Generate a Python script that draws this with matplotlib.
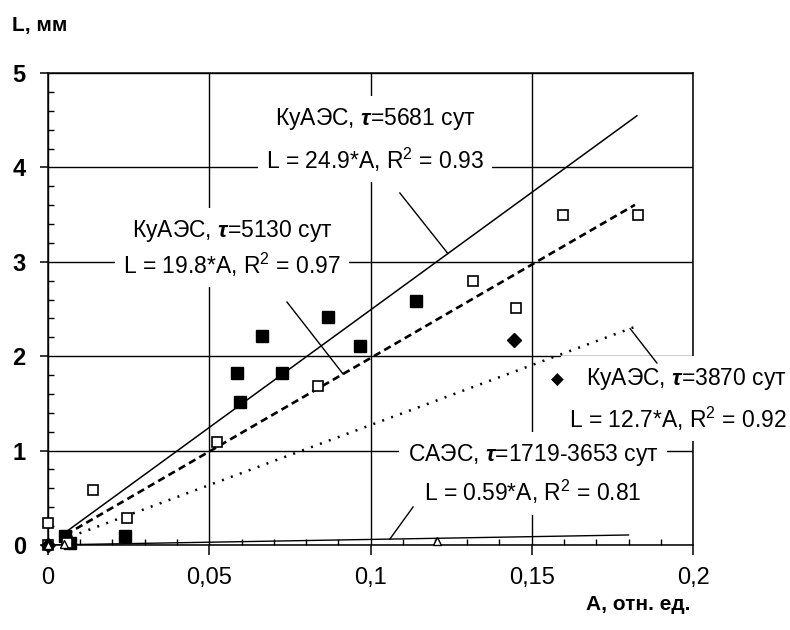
import matplotlib
matplotlib.use('Agg')
import matplotlib.pyplot as plt
from matplotlib.ticker import MultipleLocator

plt.rcParams['font.family'] = ['Liberation Sans', 'DejaVu Sans']
plt.rcParams['mathtext.fontset'] = 'custom'
plt.rcParams['mathtext.rm'] = 'Liberation Sans'
plt.rcParams['mathtext.it'] = 'Liberation Sans:italic:bold'

# --- данные ---
# КуАЭС, tau=5681 сут (закрашенные квадраты), L = 24.9*A
a_5681 = [0.0053, 0.0068, 0.0239, 0.0585, 0.0595, 0.0663, 0.0725, 0.0867, 0.0966, 0.114]
l_5681 = [0.10, 0.02, 0.10, 1.82, 1.52, 2.21, 1.82, 2.41, 2.11, 2.58]
# КуАЭС, tau=5130 сут (пустые квадраты), L = 19.8*A
a_5130 = [0.0, 0.0, 0.006, 0.0139, 0.0244, 0.0523, 0.0836, 0.1319, 0.1451, 0.1598, 0.183]
l_5130 = [0.0, 0.23, 0.02, 0.58, 0.29, 1.09, 1.68, 2.80, 2.51, 3.50, 3.50]
# КуАЭС, tau=3870 сут (ромбы), L = 12.7*A
a_3870 = [0.0, 0.1446]
l_3870 = [0.0, 2.17]
# САЭС, tau=1719-3653 сут (треугольники), L = 0.59*A
a_saes = [0.0, 0.005, 0.1205]
l_saes = [0.0, 0.01, 0.04]

# линии тренда: наклон и диапазон по A
slopes = [24.9, 19.8, 12.7, 0.59]
trend_a0 = [0.0055, 0.0055, 0.007, 0.0]
trend_a1 = [0.1826, 0.182, 0.1826, 0.18]

x_ticks = [0, 0.05, 0.1, 0.15, 0.2]
x_tick_labels = ['0', '0,05', '0,1', '0,15', '0,2']
y_ticks = [0, 1, 2, 3, 4, 5]

fig = plt.figure(figsize=(7.9, 6.3), dpi=100)
ax = fig.add_axes([48 / 790, 85 / 630, 645 / 790, 472 / 630])
ax.set_xlim(0, 0.2)
ax.set_ylim(0, 5)

# сетка
ax.grid(True, which='major', color='black', lw=1.0, zorder=1)
ax.set_axisbelow(True)
for s in ax.spines.values():
    s.set_linewidth(1.1)

# тренды
styles = [dict(ls='-', lw=1.1),
          dict(ls=(0, (2.8, 1.7)), lw=1.9),
          dict(ls=(0, (0.8, 3.0)), lw=1.8),
          dict(ls='-', lw=1.0)]
for k in range(4):
    xs = [trend_a0[k], trend_a1[k]]
    ys = [slopes[k] * x for x in xs]
    ax.plot(xs, ys, color='black', zorder=3, **styles[k])

# точки
ax.plot(a_5681, l_5681, 's', color='black', ms=8, ls='none', zorder=4, clip_on=False)
ax.plot(a_5130, l_5130, 's', mfc='white', mec='black', mew=1.2, ms=7.5, ls='none', zorder=4, clip_on=False)
ax.plot(a_3870, l_3870, 'D', color='black', ms=7, ls='none', zorder=4, clip_on=False)
ax.plot(a_saes, l_saes, '^', mfc='white', mec='black', mew=1.0, ms=6, ls='none', zorder=4, clip_on=False)

# подписи трендов
box = dict(facecolor='white', edgecolor='none', pad=6)
fs = 16.5
ax.text(0.1014, 4.29, 'КуАЭС, $\\tau$=5681 сут\nL = 24.9*A, R$^2$ = 0.93', ha='center', va='center',
        fontsize=fs, linespacing=1.6, bbox=box, zorder=5)
ax.text(0.0571, 3.14, 'КуАЭС, $\\tau$=5130 сут\nL = 19.8*A, R$^2$ = 0.97', ha='center', va='center',
        fontsize=fs, linespacing=1.3, bbox=box, zorder=5)
ax.text(0.2291, 1.54, 'КуАЭС, $\\tau$=3870 сут\nL = 12.7*A, R$^2$ = 0.92', ha='right', va='center',
        fontsize=fs, linespacing=1.55, bbox=box, zorder=5, clip_on=False, multialignment='right')
ax.text(0.158, 1.75, '◆', ha='center', va='center', fontsize=12, family='DejaVu Sans', zorder=6)
ax.text(0.1504, 0.75, 'САЭС, $\\tau$=1719-3653 сут\nL = 0.59*A, R$^2$ = 0.81', ha='center', va='center',
        fontsize=fs, linespacing=1.45, bbox=box, zorder=5)

# выноски к линиям тренда
leaders = [(0.1091, 3.729, 0.124, 0), (0.0741, 2.574, 0.0915, 1),
           (0.1888, 1.928, 0.1805, 2), (0.1132, 0.403, 0.106, 3)]
for x0, y0, x1, k in leaders:
    ax.plot([x0, x1], [y0, slopes[k] * x1], color='black', lw=1.0, zorder=5, clip_on=False)

# оси
ax.set_xticks(x_ticks)
ax.set_xticklabels(x_tick_labels, fontsize=17)
ax.set_yticks(y_ticks)
ax.set_yticklabels([str(v) for v in y_ticks], fontsize=17, fontweight='bold')
ax.xaxis.set_minor_locator(MultipleLocator(0.01))
ax.yaxis.set_minor_locator(MultipleLocator(0.2))
ax.tick_params(axis='x', which='major', direction='out', length=7, width=1.1, pad=9)
ax.tick_params(axis='y', which='major', direction='out', length=6, width=1.1, pad=10)
ax.tick_params(which='minor', direction='in', length=4.5, width=1.0)

fig.text(12 / 790, 1 - 26 / 630, 'L, мм', fontsize=15, fontweight='bold', va='center', ha='left')
fig.text(690 / 790, 1 - 604 / 630, 'A, отн. ед.', fontsize=15, fontweight='bold', va='center', ha='right')

fig.savefig('out.png', dpi=100)
